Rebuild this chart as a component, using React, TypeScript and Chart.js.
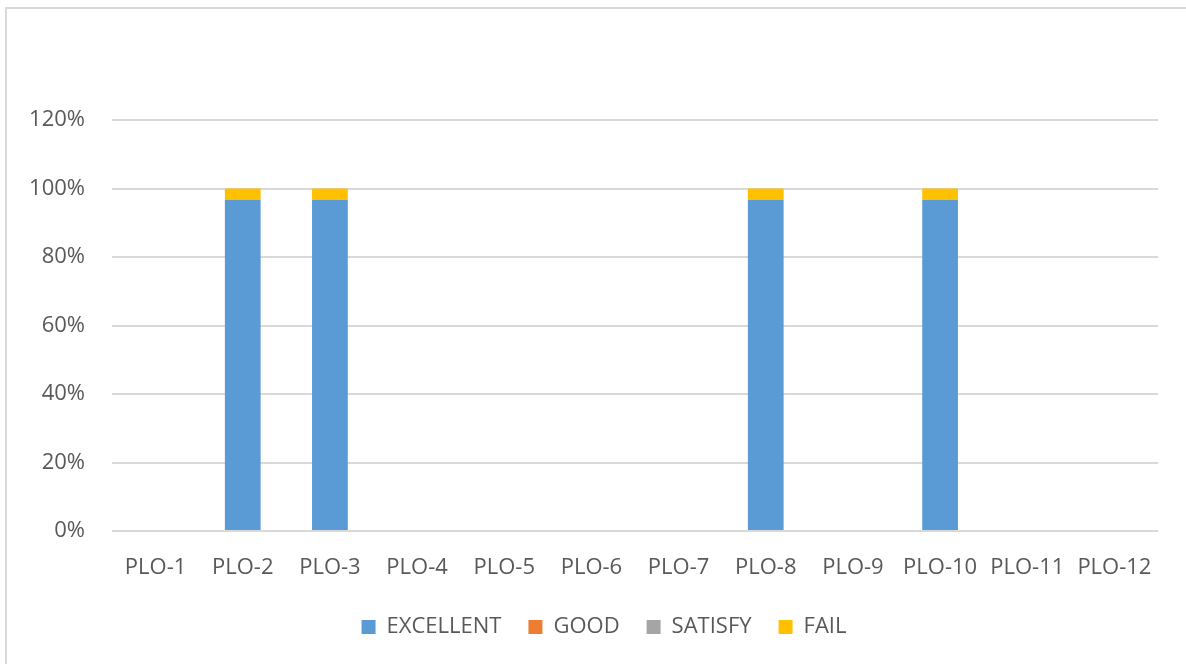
import React, { useEffect, useRef } from "react";
import { Chart, registerables } from "chart.js";

Chart.register(...registerables);

const categories = ["PLO-1", "PLO-2", "PLO-3", "PLO-4", "PLO-5", "PLO-6", "PLO-7", "PLO-8", "PLO-9", "PLO-10", "PLO-11", "PLO-12"];
const excellent = [0, 96.7, 96.7, 0, 0, 0, 0, 96.7, 0, 96.7, 0, 0];
const good = [0, 0, 0, 0, 0, 0, 0, 0, 0, 0, 0, 0];
const satisfy = [0, 0, 0, 0, 0, 0, 0, 0, 0, 0, 0, 0];
const fail = [0, 3.3, 3.3, 0, 0, 0, 0, 3.3, 0, 3.3, 0, 0];
const yMax = 120;
const yStep = 20;

const FONT = "'Open Sans', sans-serif";
const TEXT = "#595959";
const GRID = "#d9d9d9";

const legendShift = {
  id: "legendShift",
  afterLayout(chart: any) {
    const l = chart.legend;
    if (l) {
      l.left += 25;
      l.right += 25;
    }
  },
};

export default function App() {
  const ref = useRef<HTMLCanvasElement | null>(null);

  useEffect(() => {
    if (!ref.current) return;
    const chart = new Chart(ref.current, {
      type: "bar",
      data: {
        labels: categories,
        datasets: [
          { label: "EXCELLENT", data: excellent, backgroundColor: "#5B9BD5" },
          { label: "GOOD", data: good, backgroundColor: "#ED7D31" },
          { label: "SATISFY", data: satisfy, backgroundColor: "#A5A5A5" },
          { label: "FAIL", data: fail, backgroundColor: "#FFC000" },
        ],
      },
      plugins: [legendShift],
      options: {
        animation: false,
        responsive: false,
        maintainAspectRatio: false,
        datasets: { bar: { categoryPercentage: 1, barPercentage: 0.41 } },
        layout: { padding: { top: 120, right: 28, left: 0, bottom: 16 } },
        plugins: {
          tooltip: { enabled: false },
          legend: {
            position: "bottom",
            labels: {
              font: { family: FONT, size: 22 },
              color: TEXT,
              boxWidth: 14,
              boxHeight: 14,
              padding: 27,
            },
          },
        },
        scales: {
          x: {
            stacked: true,
            grid: { display: false },
            border: { display: false },
            afterFit: (s: any) => { s.height = 58; },
            ticks: { font: { family: FONT, size: 22 }, color: TEXT, padding: 16, maxRotation: 0, autoSkip: false },
          },
          y: {
            stacked: true,
            min: 0,
            max: yMax,
            grid: { color: GRID, lineWidth: 2, drawTicks: false },
            border: { display: false },
            afterFit: (s: any) => { s.width = 112; },
            ticks: {
              stepSize: yStep,
              padding: 27,
              font: { family: FONT, size: 22 },
              color: TEXT,
              callback: (v: any) => `${v}%`,
            },
          },
        },
      },
    });
    return () => chart.destroy();
  }, []);

  return (
    <div style={{ position: "fixed", left: 0, top: 0, width: 1186, height: 664, overflow: "hidden", background: "#fff" }}>
      <div style={{ position: "absolute", left: 5, top: 7, width: 1300, height: 800, border: "2px solid #d9d9d9", boxSizing: "border-box" }} />
      <canvas ref={ref} width={1186} height={664} style={{ position: "absolute", left: 0, top: 0, width: 1186, height: 664 }} />
    </div>
  );
}
